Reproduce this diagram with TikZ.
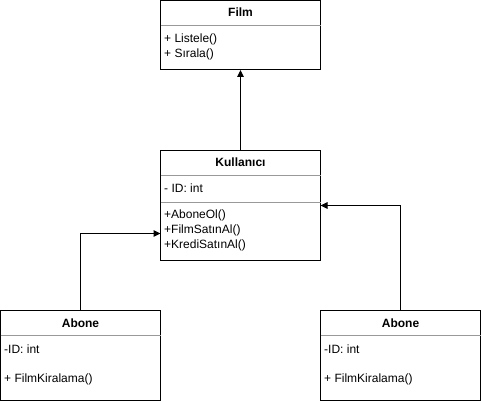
\documentclass[tikz,border=0pt]{standalone}
\usepackage{fontspec}
\setmainfont{Liberation Sans}
\usetikzlibrary{arrows.meta}

\begin{document}
\begin{tikzpicture}[x=1pt, y=-1pt,
cls/.style = {draw=black, line width=1pt, fill=white, minimum width=160pt,
            inner sep=0pt, outer sep=0pt},
title/.style = {font=\fontsize{12}{14}\selectfont\bfseries, inner sep=0pt},
member/.style = {font=\fontsize{12}{14}\selectfont, anchor=west, inner sep=0pt},
divider/.style = {draw=gray!80, line width=0.8pt},
conn/.style = {draw=black, line width=1pt, -{Triangle[length=7pt,width=6.5pt]}}
                ]
    \useasboundingbox (0,0) rectangle (481,401);

    % Film
    \node[cls, minimum height=69pt] at (240.5,35.5) (film) {};
    \node[title] at (240.5,12.5) (filmt) {Film};
    \draw[divider] (160.5,25.5) -- (320.5,25.5);
    \foreach \y/\t [count=\i] in {39/{+ Listele()}, 54/{+ Sırala()}}
        \node[member] at (164,\y) (filmm\i) {\t};

    % Kullanici
    \node[cls, minimum height=110pt] at (240.5,205.5) (kul) {};
    \node[title] at (240.5,162) (kult) {Kullanıcı};
    \draw[divider] (160.5,175.5) -- (320.5,175.5);
    \node[member] at (164,188.5) (kula) {- ID: int};
    \draw[divider] (160.5,202.5) -- (320.5,202.5);
    \foreach \y/\t [count=\i] in {215/{+AboneOl()}, 230/{+FilmSatınAl()}, 245/{+KrediSatınAl()}}
        \node[member] at (164,\y) (kulm\i) {\t};

    % Abone (two of them)
    \foreach \dx/\n in {0/abl, 320/abr}{
        \node[cls, minimum height=90pt] at (80.5+\dx,355.5) (\n) {};
        \node[title] at (80.5+\dx,323.5) (\n t) {Abone};
        \draw[divider] (0.5+\dx,335.5) -- (160.5+\dx,335.5);
        \node[member] at (4+\dx,349) (\n a) {-ID: int};
        \node[member] at (4+\dx,379) (\n m) {+ FilmKiralama()};
    }

    \draw[conn] (kul.north) -- (film.south);
    \draw[conn] (abl.north) |- ([yshift=-28pt]kul.west);
    \draw[conn] (abr.north) |- (kul.east);
\end{tikzpicture}
\end{document}
